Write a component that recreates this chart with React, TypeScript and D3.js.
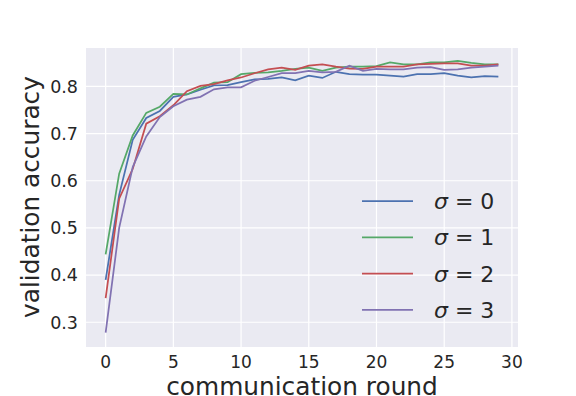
import React, { useEffect, useRef } from "react";
import * as d3 from "d3";

const rounds = d3.range(0, 30);
const sigmaLabels = ["0", "1", "2", "3"];
const colors = ["#4C72B0", "#55A868", "#C44E52", "#8172B2"];

const sigma0 = [0.39, 0.57, 0.687, 0.733, 0.748, 0.778, 0.783, 0.793, 0.802, 0.803, 0.809, 0.815, 0.816, 0.819, 0.813, 0.823, 0.818, 0.831, 0.826, 0.825, 0.825, 0.823, 0.821, 0.826, 0.826, 0.828, 0.823, 0.819, 0.822, 0.821];
const sigma1 = [0.444, 0.615, 0.696, 0.744, 0.757, 0.784, 0.783, 0.796, 0.808, 0.809, 0.826, 0.829, 0.83, 0.833, 0.837, 0.84, 0.833, 0.84, 0.842, 0.842, 0.843, 0.851, 0.847, 0.847, 0.851, 0.851, 0.854, 0.85, 0.847, 0.847];
const sigma2 = [0.351, 0.562, 0.625, 0.721, 0.737, 0.76, 0.79, 0.801, 0.805, 0.813, 0.819, 0.828, 0.836, 0.84, 0.835, 0.844, 0.847, 0.842, 0.838, 0.837, 0.842, 0.842, 0.842, 0.847, 0.848, 0.849, 0.849, 0.844, 0.844, 0.847];
const sigma3 = [0.278, 0.5, 0.629, 0.694, 0.735, 0.758, 0.772, 0.778, 0.794, 0.798, 0.798, 0.812, 0.82, 0.828, 0.828, 0.833, 0.83, 0.831, 0.844, 0.833, 0.837, 0.836, 0.836, 0.84, 0.841, 0.835, 0.836, 0.84, 0.842, 0.844];
const series = [sigma0, sigma1, sigma2, sigma3];

const xTicks = [0, 5, 10, 15, 20, 25, 30];
const yTicks = [0.3, 0.4, 0.5, 0.6, 0.7, 0.8];

const App = () => {
  const ref = useRef<SVGSVGElement>(null);

  useEffect(() => {
    const svg = d3.select(ref.current);
    svg.selectAll("*").remove();

    const left = 86, right = 518, top = 48, bottom = 347;
    const x = d3.scaleLinear().domain([-1.45, 30.45]).range([left, right]);
    const y = d3.scaleLinear().domain([0.2475, 0.8815]).range([bottom, top]);
    const font = "DejaVu Sans, sans-serif";
    const textColor = "#262626";

    svg.append("rect")
      .attr("x", left).attr("y", top)
      .attr("width", right - left).attr("height", bottom - top)
      .attr("fill", "#EAEAF2");

    // grid
    svg.append("g").selectAll("line").data(xTicks).enter().append("line")
      .attr("x1", (d) => x(d)).attr("x2", (d) => x(d))
      .attr("y1", top).attr("y2", bottom)
      .attr("stroke", "white").attr("stroke-width", 1.2);
    svg.append("g").selectAll("line").data(yTicks).enter().append("line")
      .attr("x1", left).attr("x2", right)
      .attr("y1", (d) => y(d)).attr("y2", (d) => y(d))
      .attr("stroke", "white").attr("stroke-width", 1.2);

    // tick labels
    svg.append("g").selectAll("text").data(xTicks).enter().append("text")
      .attr("x", (d) => x(d)).attr("y", 368)
      .attr("text-anchor", "middle")
      .attr("font-family", font).attr("font-size", 17)
      .attr("fill", textColor)
      .text((d) => d);
    svg.append("g").selectAll("text").data(yTicks).enter().append("text")
      .attr("x", 78).attr("y", (d) => y(d))
      .attr("dy", "0.36em")
      .attr("text-anchor", "end")
      .attr("font-family", font).attr("font-size", 17.5)
      .attr("fill", textColor)
      .text((d) => d.toFixed(1));

    // axis labels
    svg.append("text")
      .attr("x", 302).attr("y", 395)
      .attr("text-anchor", "middle")
      .attr("font-family", font).attr("font-size", 24.8)
      .attr("fill", textColor)
      .text("communication round");
    svg.append("text")
      .attr("transform", `translate(38.5,197) rotate(-90)`)
      .attr("text-anchor", "middle")
      .attr("font-family", font).attr("font-size", 24.8)
      .attr("fill", textColor)
      .text("validation accuracy");

    // lines
    const line = d3.line<number>()
      .x((d, i) => x(rounds[i]))
      .y((d) => y(d));
    series.forEach((s, i) => {
      svg.append("path")
        .datum(s)
        .attr("d", line)
        .attr("fill", "none")
        .attr("stroke", colors[i])
        .attr("stroke-width", 1.75);
    });

    // legend
    const leg = svg.append("g");
    sigmaLabels.forEach((lab, i) => {
      const ly = 201 + i * 36.3;
      leg.append("line")
        .attr("x1", 362).attr("x2", 413)
        .attr("y1", ly).attr("y2", ly)
        .attr("stroke", colors[i]).attr("stroke-width", 1.75);
      const t = leg.append("text")
        .attr("x", 434).attr("y", ly)
        .attr("dy", "0.36em")
        .attr("font-family", font).attr("font-size", 22)
        .attr("fill", textColor);
      t.append("tspan").attr("font-style", "italic").text("σ");
      t.append("tspan").attr("xml:space", "preserve").text(" = " + lab);
    });
  }, []);

  return <svg ref={ref} width={576} height={396} style={{ position: "absolute", left: 0, top: 0 }} />;
};

export default App;
